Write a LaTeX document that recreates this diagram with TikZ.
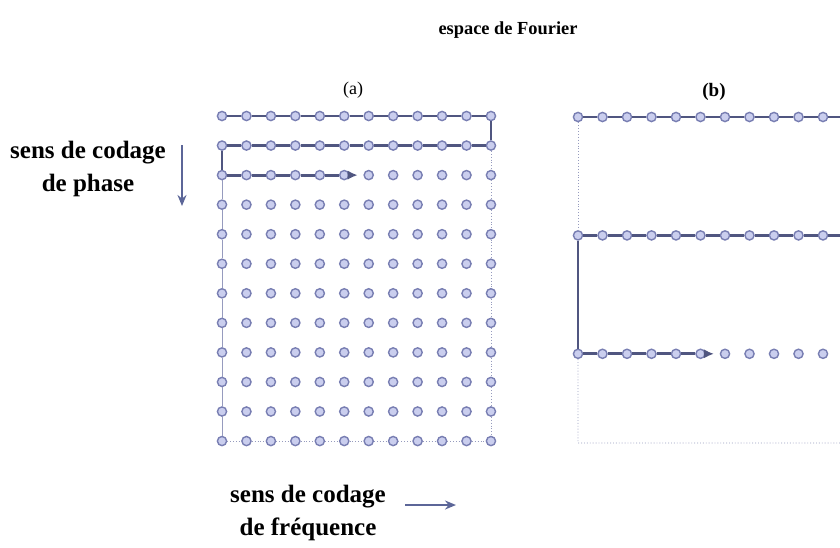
\documentclass[tikz,border=0pt]{standalone}
\usepackage{fontspec}
\setmainfont{Liberation Serif}
\usetikzlibrary{arrows.meta,calc}
\definecolor{dotfill}{RGB}{202,206,238}
\definecolor{dotdraw}{RGB}{120,126,178}
\definecolor{scancol}{RGB}{80,86,128}
\definecolor{dircol}{RGB}{92,102,152}
\definecolor{framecol}{RGB}{150,155,190}
\newcommand{\sidetext}{\fontsize{12.5}{16.5}\selectfont\bfseries}

\begin{document}
\begin{tikzpicture}[
  x=0.5pt, y=-0.5pt,
  dot/.style={circle, draw=dotdraw, fill=dotfill, line width=0.7pt, inner sep=0pt, minimum size=4.6pt},
  scanline/.style={draw=scancol, line width=1.4pt},
  scanarrow/.style={scanline, -{Latex[length=5pt, width=4.6pt]}},
  frameline/.style={draw=framecol, line width=0.45pt, densely dotted},
  dirarrow/.style={draw=dircol, line width=1pt, -{Stealth[length=5.5pt, width=4.5pt]}},
  label/.style={font=\sidetext, align=center},
]
\useasboundingbox (0,0) rectangle (840,547);
\clip (0,0) rectangle (840,547);

% titles
\node[font=\fontsize{9.2}{11}\selectfont\bfseries] (title) at (508,30) {espace de Fourier};
\node[font=\fontsize{9}{11}\selectfont] (lab-a) at (353,90) {(a)};
\node[font=\fontsize{9.5}{11}\selectfont\bfseries] (lab-b) at (714,92) {(b)};

% (a) full grid
\foreach \r in {0,...,11}{
  \foreach \c in {0,...,11}{
    \node[dot] (a-\r-\c) at ({222+24.45*\c},{116+29.55*\r}) {};
  }
}

% frame of (a)
\foreach \r in {2,...,10}{
  \pgfmathtruncatemacro{\nxt}{\r+1}
  \draw[frameline, solid] (a-\r-0) -- (a-\nxt-0);
}
\foreach \r in {1,...,10}{
  \pgfmathtruncatemacro{\nxt}{\r+1}
  \draw[frameline] (a-\r-11) -- (a-\nxt-11);
}
\foreach \c in {0,...,10}{
  \pgfmathtruncatemacro{\nxt}{\c+1}
  \draw[frameline] (a-11-\c) -- (a-11-\nxt);
}

% scan path of (a)
\foreach \r in {0,1}{
  \foreach \c in {0,...,10}{
    \pgfmathtruncatemacro{\nxt}{\c+1}
    \draw[scanline] (a-\r-\c) -- (a-\r-\nxt);
  }
}
\draw[scanline] (a-0-11) -- (a-1-11);
\draw[scanline] (a-1-0) -- (a-2-0);
\foreach \c in {0,...,4}{
  \pgfmathtruncatemacro{\nxt}{\c+1}
  \draw[scanline] (a-2-\c) -- (a-2-\nxt);
}
\coordinate (a-tip) at ($(a-2-5)!0.55!(a-2-6)$);
\draw[scanarrow] (a-2-5) -- (a-tip);

% (b) one line out of four
\foreach \r in {0,4,8}{
  \foreach \c in {0,...,11}{
    \node[dot] (b-\r-\c) at ({578+24.5*\c},{117+29.6*\r}) {};
  }
}
\coordinate (b-bl) at (578,443);
\coordinate (b-br) at (847,443);

% frame of (b)
\draw[frameline] (b-0-0) -- (b-4-0);
\draw[frameline] (b-8-0) -- (b-bl) -- (b-br) -- (b-8-11);

% scan path of (b)
\foreach \r in {0,4}{
  \foreach \c in {0,...,10}{
    \pgfmathtruncatemacro{\nxt}{\c+1}
    \draw[scanline] (b-\r-\c) -- (b-\r-\nxt);
  }
}
\draw[scanline] (b-0-11) -- (b-4-11);
\draw[scanline] (b-4-0) -- (b-8-0);
\foreach \c in {0,...,4}{
  \pgfmathtruncatemacro{\nxt}{\c+1}
  \draw[scanline] (b-8-\c) -- (b-8-\nxt);
}
\coordinate (b-tip) at ($(b-8-5)!0.55!(b-8-6)$);
\draw[scanarrow] (b-8-5) -- (b-tip);

% coding directions
\node[label] (phase) at (88,169) {sens de codage\\de phase};
\coordinate (ph-top) at (182,145);
\coordinate (ph-bot) at (182,206);
\draw[dirarrow] (ph-top) -- (ph-bot);

\node[label] (freq) at (308,513) {sens de codage\\de fréquence};
\coordinate (fr-left) at (405,505);
\coordinate (fr-right) at (456,505);
\draw[dirarrow] (fr-left) -- (fr-right);

\end{tikzpicture}
\end{document}
